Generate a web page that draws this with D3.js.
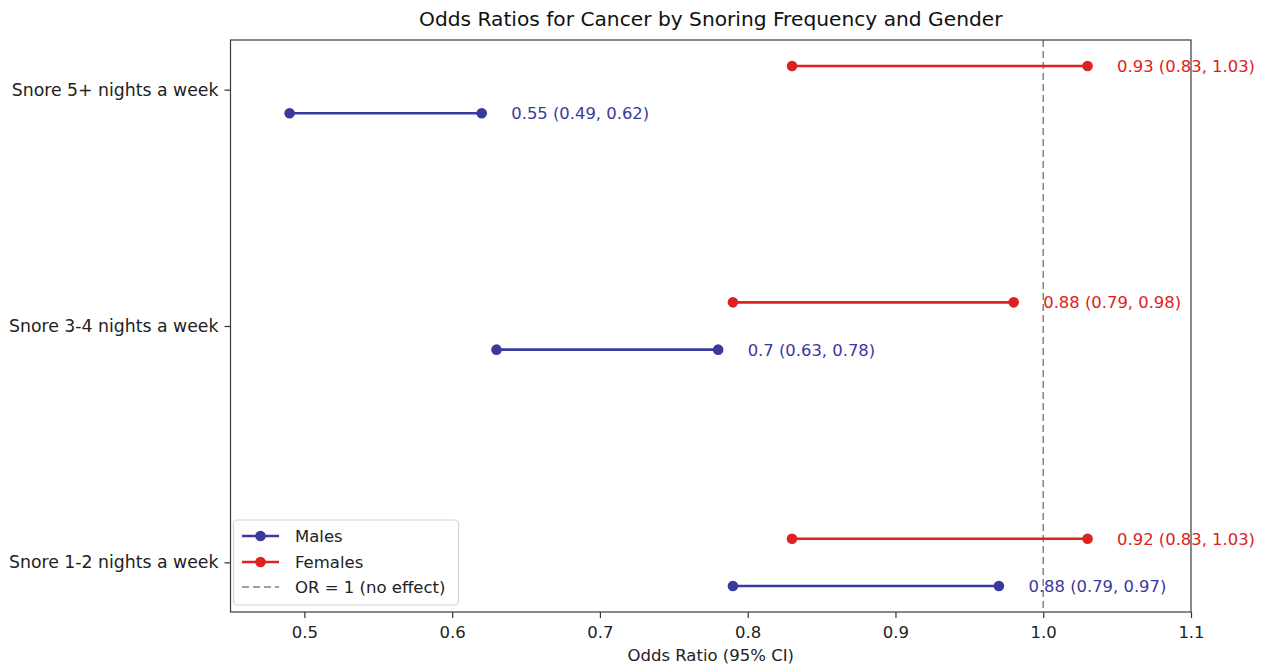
<!DOCTYPE html>
<html>
<head>
<meta charset="utf-8">
<script src="https://cdn.jsdelivr.net/npm/d3@7"></script>
<style>
  html, body { margin: 0; padding: 0; background: #ffffff; }
  svg { display: block; }
  text { font-family: "DejaVu Sans", sans-serif; }
</style>
</head>
<body>
<div id="chart"></div>
<script>
// ---- Data ----
const categories = ["Snore 1-2 nights a week", "Snore 3-4 nights a week", "Snore 5+ nights a week"];
const maleOR = [0.88, 0.7, 0.55];
const maleLo = [0.79, 0.63, 0.49];
const maleHi = [0.97, 0.78, 0.62];
const femaleOR = [0.92, 0.88, 0.93];
const femaleLo = [0.83, 0.79, 0.83];
const femaleHi = [1.03, 0.98, 1.03];
const xTicks = [0.5, 0.6, 0.7, 0.8, 0.9, 1.0, 1.1];
const xTickLabels = ["0.5", "0.6", "0.7", "0.8", "0.9", "1.0", "1.1"];
const seriesNames = ["Males", "Females"];
const refLabel = "OR = 1 (no effect)";
const refValue = 1.0;
const titleText = "Odds Ratios for Cancer by Snoring Frequency and Gender";
const xLabelText = "Odds Ratio (95% CI)";

// ---- Layout ----
const W = 1269, H = 666;
const plot = { left: 230.5, right: 1191, top: 40, bottom: 612 };
const colMale = "#3a3a9c";
const colFemale = "#de2121";
const colRef = "#8a8080";

const svg = d3.select("#chart").append("svg").attr("width", W).attr("height", H);

const x = d3.scaleLinear().domain([0.45, 1.1]).range([plot.left, plot.right]);
const y = d3.scaleLinear().domain([-0.21, 2.21]).range([plot.bottom, plot.top]);

const series = [
  { name: seriesNames[0], color: colMale, off: -0.1, or: maleOR, lo: maleLo, hi: maleHi },
  { name: seriesNames[1], color: colFemale, off: 0.1, or: femaleOR, lo: femaleLo, hi: femaleHi }
];

// Reference line
svg.append("line")
  .attr("x1", x(refValue)).attr("x2", x(refValue))
  .attr("y1", plot.top).attr("y2", plot.bottom)
  .attr("stroke", colRef).attr("stroke-width", 1.5)
  .attr("stroke-dasharray", "7,4");

// Series
series.forEach(s => {
  const g = svg.append("g");
  categories.forEach((c, i) => {
    const yy = y(i + s.off);
    g.append("line")
      .attr("x1", x(s.lo[i])).attr("x2", x(s.hi[i]))
      .attr("y1", yy).attr("y2", yy)
      .attr("stroke", s.color).attr("stroke-width", 2.7);
    [s.lo[i], s.hi[i]].forEach(v => {
      g.append("circle").attr("cx", x(v)).attr("cy", yy).attr("r", 5.3).attr("fill", s.color);
    });
    g.append("text")
      .attr("x", x(s.hi[i] + 0.02)).attr("y", yy)
      .attr("dy", "0.36em")
      .attr("font-size", 16.4).attr("fill", s.color)
      .text(`${s.or[i]} (${s.lo[i].toFixed(2)}, ${s.hi[i].toFixed(2)})`);
  });
});

// Spines
svg.append("rect")
  .attr("x", plot.left).attr("y", plot.top)
  .attr("width", plot.right - plot.left).attr("height", plot.bottom - plot.top)
  .attr("fill", "none").attr("stroke", "#3a3a3a").attr("stroke-width", 1.2);

// X axis
const xAxis = d3.axisBottom(x).tickValues(xTicks)
  .tickFormat((d, i) => xTickLabels[i]).tickSize(6).tickPadding(8);
const gx = svg.append("g").attr("transform", `translate(0,${plot.bottom})`).call(xAxis);
gx.select(".domain").remove();
gx.selectAll(".tick line").attr("stroke", "#333").attr("stroke-width", 1.2);
gx.selectAll(".tick text").attr("font-size", 16.5).attr("fill", "#222")
  .attr("font-family", "DejaVu Sans, sans-serif");

// Y axis
const yAxis = d3.axisLeft(y).tickValues([0, 1, 2])
  .tickFormat((d) => categories[d]).tickSize(6).tickPadding(6);
const gy = svg.append("g").attr("transform", `translate(${plot.left},0)`).call(yAxis);
gy.select(".domain").remove();
gy.selectAll(".tick line").attr("stroke", "#333").attr("stroke-width", 1.2);
gy.selectAll(".tick text").attr("font-size", 17.3).attr("fill", "#222")
  .attr("font-family", "DejaVu Sans, sans-serif");

// Title
svg.append("text")
  .attr("x", (plot.left + plot.right) / 2).attr("y", 26)
  .attr("text-anchor", "middle").attr("font-size", 20.2).attr("fill", "#111")
  .text(titleText);

// X label
svg.append("text")
  .attr("x", (plot.left + plot.right) / 2).attr("y", 661)
  .attr("text-anchor", "middle").attr("font-size", 16.5).attr("fill", "#222")
  .text(xLabelText);

// Legend
const leg = { x: 233.5, y: 520, w: 225, h: 85 };
const lg = svg.append("g");
lg.append("rect")
  .attr("x", leg.x).attr("y", leg.y).attr("width", leg.w).attr("height", leg.h)
  .attr("rx", 4).attr("fill", "#ffffff").attr("fill-opacity", 0.85)
  .attr("stroke", "#d4d4d4").attr("stroke-width", 1.2);
const rowsY = [536, 562, 587];
const hx0 = 242, hx1 = 279;
series.forEach((s, i) => {
  lg.append("line").attr("x1", hx0).attr("x2", hx1).attr("y1", rowsY[i]).attr("y2", rowsY[i])
    .attr("stroke", s.color).attr("stroke-width", 2.7);
  lg.append("circle").attr("cx", (hx0 + hx1) / 2).attr("cy", rowsY[i]).attr("r", 5.3).attr("fill", s.color);
  lg.append("text").attr("x", 295).attr("y", rowsY[i]).attr("dy", "0.36em")
    .attr("font-size", 16.5).attr("fill", "#222").text(s.name);
});
lg.append("line").attr("x1", hx0).attr("x2", hx1).attr("y1", rowsY[2]).attr("y2", rowsY[2])
  .attr("stroke", colRef).attr("stroke-width", 1.5).attr("stroke-dasharray", "7,4");
lg.append("text").attr("x", 295).attr("y", rowsY[2]).attr("dy", "0.36em")
  .attr("font-size", 16.5).attr("fill", "#222").text(refLabel);
</script>
</body>
</html>
